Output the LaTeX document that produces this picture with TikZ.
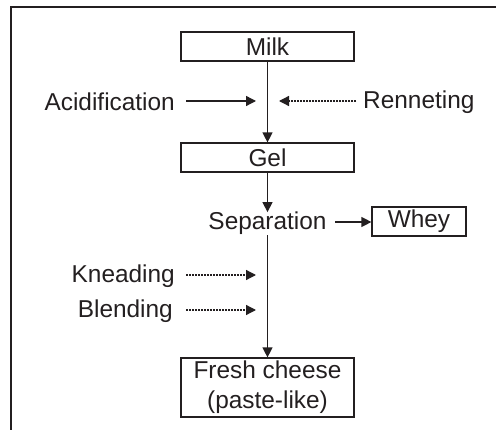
\documentclass[tikz,border=0pt]{standalone}
\usepackage{fontspec}
\setmainfont{Liberation Sans}
\usetikzlibrary{arrows.meta}
\definecolor{ink}{HTML}{231F20}
\begin{document}
\begin{tikzpicture}[x=1pt,y=-1pt,
  every node/.style={text=ink,font=\fontsize{24.4}{30}\selectfont},
  stepbox/.style={draw=ink,line width=1.2pt,minimum width=173pt,minimum height=29pt,inner sep=0pt,align=center},
  lbl/.style={inner sep=0pt},
  arr/.style={draw=ink,line width=1.3pt,-{Triangle[length=10pt,width=10pt]}},
  darr/.style={arr,dash pattern=on 2pt off 1pt}]
\useasboundingbox (0,0) rectangle (496,430);
\draw[ink,line width=2.2pt] (11,431) -- (11,7) -- (497,7);
\node[stepbox] (milk) at (267.5,46.5) {Milk};
\node[stepbox] (gel) at (267.5,157.5) {Gel};
\node[lbl,anchor=base] (sep) at (267.5,230) {Separation};
\node[stepbox,minimum width=94pt] (whey) at (419,221.5) {Whey};
\node[stepbox,minimum height=59pt] (fresh) at (267.5,387.5) {Fresh cheese\\(paste-like)};
\node[lbl,anchor=east] (acid) at (175,102) {Acidification};
\node[lbl,anchor=west] (renn) at (363,102) {Renneting};
\node[lbl,anchor=east] (knead) at (175,276) {Kneading};
\node[lbl,anchor=east] (blend) at (173,311) {Blending};
\coordinate (a1) at (186,101); \coordinate (a2) at (256,101);
\coordinate (r1) at (356,101); \coordinate (r2) at (279,101);
\coordinate (k1) at (186,275); \coordinate (k2) at (256,275);
\coordinate (b1) at (186,310); \coordinate (b2) at (256,310);
\coordinate (s1) at (335,222);
\draw[arr] (milk.south) -- (gel.north);
\draw[arr] (gel.south) -- (sep.north);
\draw[arr] (sep.south) -- (fresh.north);
\draw[arr] (s1) -- (s1 -| whey.west);
\draw[arr] (a1) -- (a2);
\draw[darr] (r1) -- (r2);
\draw[darr] (k1) -- (k2);
\draw[darr] (b1) -- (b2);
\end{tikzpicture}
\end{document}
